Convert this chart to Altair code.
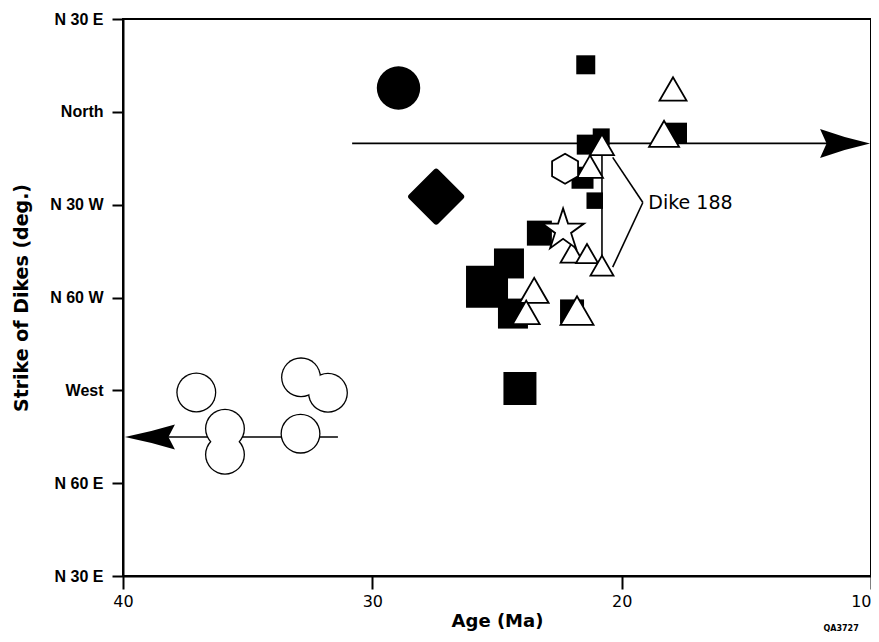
import altair as alt
import pandas as pd

# ---------------- data ----------------
x_ticks = [40, 30, 20, 10]
y_ticks = [30, 0, -30, -60, -90, -120, -150]
y_labels = ["N 30 E", "North", "N 30 W", "N 60 W", "West", "N 60 E", "N 30 E"]

# filled squares
sq_age = [21.44, 20.82, 21.40, 17.80, 21.57, 21.08, 23.30, 24.52, 25.40, 24.36, 21.99, 24.08]
sq_strike = [15.2, -8.1, -10.6, -6.9, -21.3, -28.7, -39.2, -49.0, -56.5, -65.2, -64.5, -89.4]
sq_side = [19, 17, 20, 21, 22, 16.5, 25, 30, 42, 30, 24, 33]

# open triangles
tri_age = [17.94, 18.30, 20.79, 21.27, 21.99, 21.39, 20.79, 23.51, 23.83, 21.79]
tri_strike = [7.4, -7.1, -10.6, -17.7, -45.5, -45.8, -49.7, -57.7, -64.8, -64.2]
tri_width = [27, 30, 24, 26, 23, 22, 23, 29, 27, 33]

# open circles
circ_age = [37.06, 35.91, 35.91, 32.86, 31.78, 32.88]
circ_strike = [-90.7, -102.4, -110.8, -85.8, -90.8, -104.0]

# single symbols
dot_age, dot_strike = [28.95], [7.7]
diamond_age, diamond_strike = [27.44], [-27.4]
hex_age, hex_strike = [22.27], [-18.4]
star_age, star_strike = [22.35], [-38.3]

# line segments (range bars, Dike 188 bracket)
seg_x = [30.81, 31.38, 20.79, 20.36, 19.15]
seg_x2 = [11.04, 38.90, 20.79, 19.15, 20.36]
seg_y = [-10.2, -105.1, -10.6, -14.7, -29.3]
seg_y2 = [-10.2, -105.1, -49.7, -29.3, -50.2]

# arrow heads at the ends of the range bars
arrow_age = [11.04, 38.92]
arrow_strike = [-10.2, -105.1]

label_text = ["Dike 188"]
label_age, label_strike = [18.93], [-29.6]

code_text = ["QA3727"]
code_age, code_strike = [11.2], [-167.0]

# ---------------- chart ----------------
label_expr = " : ".join(
    f"datum.value == {v} ? '{t}'" for v, t in zip(y_ticks, y_labels)
) + " : ''"

xscale = alt.Scale(domain=[10, 40], reverse=True, nice=False, zero=False)
yscale = alt.Scale(domain=[-150, 30], nice=False, zero=False)

X = alt.X("x:Q", scale=xscale, title="Age  (Ma)",
          axis=alt.Axis(values=x_ticks, format="d", labelFlush=False, tickSize=13,
                        labelAlign={"condition": {"test": "datum.value == 10", "value": "right"},
                                    "value": "center"},
                        labelPadding=4, labelFont="DejaVu Sans", labelFontSize=16,
                        labelFontWeight="normal", titleFont="DejaVu Sans",
                        titleFontSize=18, titleFontWeight="bold", titlePadding=3,
                        grid=False))
Y = alt.Y("y:Q", scale=yscale, title="Strike of Dikes (deg.)",
          axis=alt.Axis(values=y_ticks, labelExpr=label_expr, tickSize=11,
                        labelPadding=9, labelFont="Liberation Sans", labelFontSize=16,
                        labelFontWeight="bold", titleFont="DejaVu Sans",
                        titleFontSize=19, titleFontWeight="bold", titlePadding=18,
                        labelOverlap=False, grid=False))

segs = pd.DataFrame({"x": seg_x, "x2": seg_x2, "y": seg_y, "y2": seg_y2})
rules = alt.Chart(segs).mark_rule(color="black", strokeWidth=1.6).encode(
    x=X, x2="x2:Q", y=Y, y2="y2:Q")

arrow_right = "M1,0 Q0,-0.22 -1,-0.58 L-0.74,0 L-1,0.58 Q0,0.22 1,0 Z"
arrow_left = "M-1,0 Q0,-0.2 1,-0.5 L0.74,0 L1,0.5 Q0,0.2 -1,0 Z"
arr = pd.DataFrame({"x": arrow_age, "y": arrow_strike, "shape": [arrow_right, arrow_left]})
arrows = alt.Chart(arr).mark_point(filled=True, color="black", opacity=1, size=2500).encode(
    x=X, y=Y, shape=alt.Shape("shape:N", scale=None, legend=None))

sq = pd.DataFrame({"x": sq_age, "y": sq_strike, "s": [v * v for v in sq_side]})
squares = alt.Chart(sq).mark_point(shape="square", filled=True, color="black", opacity=1).encode(
    x=X, y=Y, size=alt.Size("s:Q", scale=None, legend=None))

dot = alt.Chart(pd.DataFrame({"x": dot_age, "y": dot_strike})).mark_point(
    shape="circle", filled=True, color="black", opacity=1, size=1886).encode(x=X, y=Y)

dia = alt.Chart(pd.DataFrame({"x": diamond_age, "y": diamond_strike})).mark_point(
    shape="diamond", filled=True, fill="black", stroke="black", strokeWidth=6,
    strokeJoin="round", opacity=1, size=2500).encode(x=X, y=Y)

circ = pd.DataFrame({"x": circ_age, "y": circ_strike})
circ_outer = alt.Chart(circ).mark_point(shape="circle", filled=True, color="black",
                                        opacity=1, size=1600).encode(x=X, y=Y)
circ_inner = alt.Chart(circ).mark_point(shape="circle", filled=True, color="white",
                                        opacity=1, size=1400).encode(x=X, y=Y)

tri = pd.DataFrame({"x": tri_age, "y": tri_strike, "s": [w * w for w in tri_width]})
triangles = alt.Chart(tri).mark_point(shape="triangle-up", filled=True, fill="white",
                                      stroke="black", strokeWidth=1.8, opacity=1).encode(
    x=X, y=Y, size=alt.Size("s:Q", scale=None, legend=None))

hexagon_path = "M0,-1 L0.866,-0.5 L0.866,0.5 L0,1 L-0.866,0.5 L-0.866,-0.5 Z"
hexa = alt.Chart(pd.DataFrame({"x": hex_age, "y": hex_strike})).mark_point(
    shape=hexagon_path, filled=True, fill="white", stroke="black", strokeWidth=1.8,
    opacity=1, size=900).encode(x=X, y=Y)

star_path = ("M0,-1 L0.225,-0.309 L0.951,-0.309 L0.363,0.118 L0.588,0.809 L0,0.382 "
             "L-0.588,0.809 L-0.363,0.118 L-0.951,-0.309 L-0.225,-0.309 Z")
star = alt.Chart(pd.DataFrame({"x": star_age, "y": star_strike})).mark_point(
    shape=star_path, filled=True, fill="white", stroke="black", strokeWidth=1.8,
    opacity=1, size=1936).encode(x=X, y=Y)

label = alt.Chart(pd.DataFrame({"x": label_age, "y": label_strike, "t": label_text})).mark_text(
    align="left", baseline="middle", font="DejaVu Sans", fontSize=19, color="black").encode(
    x=X, y=Y, text="t:N")

code = alt.Chart(pd.DataFrame({"x": code_age, "y": code_strike, "t": code_text})).mark_text(
    align="center", baseline="middle", font="DejaVu Sans", fontSize=8, fontWeight="bold",
    color="black").encode(x=X, y=Y, text="t:N")

chart = alt.layer(
    rules, arrows, squares, dot, dia, circ_outer, circ_inner, triangles, hexa, star, label, code
).properties(
    width=748, height=557,
    autosize=alt.AutoSizeParams(type="none"),
    padding={"left": 115, "top": 11, "right": 0, "bottom": 58},
    background="white",
).configure_view(
    stroke="black", strokeWidth=2
).configure_axis(
    domainColor="black", domainWidth=2, tickColor="black", tickWidth=2,
    labelColor="black", titleColor="black"
)

chart.save("out.html", embed_options={"renderer": "svg", "actions": False})
